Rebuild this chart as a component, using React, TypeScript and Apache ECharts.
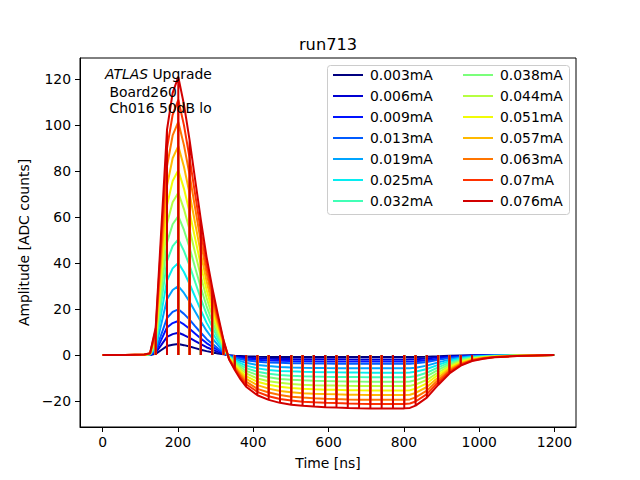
import React, { useEffect, useRef } from "react";
import * as echarts from "echarts";

const times = [0, 60, 111, 126, 141, 156, 171, 186, 201, 216, 231, 246, 261, 276, 291, 306, 321, 336, 351, 366, 381, 411, 441, 471, 501, 531, 561, 591, 621, 651, 681, 711, 741, 771, 801, 816, 831, 861, 891, 921, 951, 981, 1011, 1041, 1071, 1101, 1150, 1199];

const spikeTimes = [141, 171, 201, 231, 261, 291, 321, 351, 381, 411, 441, 471, 501, 531, 561, 591, 621, 651, 681, 711, 741, 771, 801, 831, 861, 891, 921, 951, 981];

const labels = ["0.003mA", "0.006mA", "0.009mA", "0.013mA", "0.019mA", "0.025mA", "0.032mA", "0.038mA", "0.044mA", "0.051mA", "0.057mA", "0.063mA", "0.07mA", "0.076mA"];

const colors = ["#000080", "#0000d2", "#0012ff", "#005bff", "#00a4ff", "#06edf1", "#41ffb6", "#7bff7b", "#b6ff41", "#f1fc06", "#ffb900", "#ff7500", "#ff3200", "#d20000"];

const a003 = [0, 0, 0, 0, 0.5, 2.2, 3.9, 4.5, 4.8, 4.3, 3.7, 3, 2.3, 1.7, 1.2, 0.7, 0.3, -0.1, -0.3, -0.4, -0.5, -0.7, -0.8, -0.8, -0.9, -0.9, -0.9, -0.9, -0.9, -0.9, -0.9, -0.9, -0.9, -0.9, -0.9, -0.9, -0.9, -0.7, -0.5, -0.3, -0.2, -0.1, -0.1, 0, 0, 0, 0, 0];
const a006 = [0, 0, 0, 0.1, 1, 4.4, 7.9, 9.1, 9.7, 8.7, 7.5, 6.1, 4.7, 3.4, 2.4, 1.4, 0.5, -0.2, -0.5, -0.8, -1.1, -1.4, -1.6, -1.7, -1.7, -1.8, -1.8, -1.8, -1.8, -1.8, -1.9, -1.9, -1.9, -1.9, -1.9, -1.8, -1.8, -1.5, -1, -0.6, -0.4, -0.2, -0.1, -0.1, -0.1, 0, 0, 0];
const a009 = [0, 0, 0, 0.1, 1.5, 6.7, 12, 13.9, 14.8, 13.3, 11.4, 9.3, 7.2, 5.2, 3.6, 2.2, 0.8, -0.2, -0.8, -1.3, -1.7, -2.1, -2.4, -2.5, -2.6, -2.7, -2.7, -2.8, -2.8, -2.8, -2.8, -2.8, -2.8, -2.8, -2.8, -2.8, -2.7, -2.3, -1.6, -1, -0.6, -0.3, -0.2, -0.1, -0.1, 0, 0, 0];
const a013 = [0, 0, 0, 0.1, 2, 9, 16.1, 18.8, 19.9, 17.9, 15.4, 12.5, 9.7, 7, 4.9, 2.9, 1.1, -0.3, -1.1, -1.7, -2.3, -2.9, -3.2, -3.4, -3.6, -3.6, -3.7, -3.7, -3.8, -3.8, -3.8, -3.8, -3.8, -3.8, -3.8, -3.8, -3.6, -3, -2.1, -1.3, -0.8, -0.4, -0.3, -0.2, -0.1, -0.1, 0, 0];
const a019 = [0, 0, 0, 0.2, 3, 13.6, 24.3, 28.3, 30, 27, 23.2, 18.8, 14.6, 10.6, 7.3, 4.4, 1.6, -0.5, -1.6, -2.6, -3.4, -4.3, -4.8, -5.2, -5.4, -5.5, -5.6, -5.6, -5.7, -5.7, -5.7, -5.8, -5.8, -5.8, -5.8, -5.7, -5.5, -4.6, -3.2, -2, -1.1, -0.6, -0.4, -0.2, -0.2, -0.1, 0, 0];
const a025 = [0, 0, 0.1, 0.3, 4, 18.2, 32.4, 37.7, 40.1, 36.1, 30.9, 25.2, 19.4, 14.1, 9.8, 5.9, 2.2, -0.7, -2.2, -3.5, -4.6, -5.8, -6.5, -6.9, -7.1, -7.3, -7.4, -7.5, -7.5, -7.6, -7.6, -7.7, -7.7, -7.7, -7.7, -7.6, -7.3, -6.1, -4.3, -2.6, -1.5, -0.9, -0.5, -0.3, -0.2, -0.1, -0.1, 0];
const a032 = [0, 0, 0.1, 0.3, 5, 22.9, 40.8, 47.4, 50.3, 45.3, 38.9, 31.6, 24.4, 17.8, 12.3, 7.4, 2.7, -0.8, -2.7, -4.4, -5.7, -7.3, -8.1, -8.7, -9, -9.2, -9.3, -9.4, -9.5, -9.6, -9.6, -9.7, -9.7, -9.7, -9.7, -9.6, -9.2, -7.7, -5.4, -3.3, -1.9, -1.1, -0.7, -0.4, -0.3, -0.2, -0.1, 0];
const a038 = [0, 0, 0.1, 0.4, 6, 27.4, 48.9, 56.9, 60.4, 54.4, 46.7, 37.9, 29.3, 21.3, 14.7, 8.8, 3.3, -1, -3.2, -5.2, -6.9, -8.7, -9.7, -10.4, -10.8, -11, -11.2, -11.3, -11.4, -11.5, -11.5, -11.6, -11.6, -11.6, -11.6, -11.5, -11, -9.2, -6.5, -4, -2.3, -1.3, -0.8, -0.5, -0.3, -0.2, -0.1, 0];
const a044 = [0, 0, 0.1, 0.5, 7, 32.1, 57.1, 66.5, 70.6, 63.5, 54.5, 44.3, 34.2, 24.9, 17.2, 10.3, 3.8, -1.2, -3.8, -6.1, -8, -10.2, -11.4, -12.1, -12.6, -12.9, -13.1, -13.2, -13.3, -13.4, -13.5, -13.5, -13.5, -13.5, -13.5, -13.4, -12.8, -10.8, -7.6, -4.7, -2.7, -1.5, -0.9, -0.6, -0.4, -0.2, -0.1, 0];
const a051 = [0, 0, 0.1, 0.5, 8, 36.5, 65.1, 75.7, 80.4, 72.4, 62.1, 50.5, 39, 28.4, 19.6, 11.8, 4.4, -1.3, -4.3, -7, -9.2, -11.6, -12.9, -13.8, -14.3, -14.7, -14.9, -15.1, -15.1, -15.3, -15.3, -15.4, -15.4, -15.4, -15.4, -15.3, -14.6, -12.3, -8.6, -5.3, -3.1, -1.7, -1.1, -0.7, -0.5, -0.3, -0.1, 0];
const a057 = [0, 0, 0.2, 0.6, 9, 41.3, 73.6, 85.6, 90.9, 81.9, 70.2, 57.1, 44.1, 32.1, 22.2, 13.3, 5, -1.5, -4.9, -7.9, -10.4, -13.1, -14.6, -15.6, -16.2, -16.6, -16.8, -17, -17.1, -17.3, -17.3, -17.4, -17.4, -17.4, -17.4, -17.3, -16.5, -13.9, -9.8, -6, -3.5, -2, -1.2, -0.8, -0.5, -0.3, -0.2, 0];
const a063 = [0, 0, 0.2, 0.7, 10, 46.1, 82.1, 95.5, 101.4, 91.3, 78.4, 63.7, 49.2, 35.8, 24.7, 14.8, 5.5, -1.7, -5.4, -8.8, -11.6, -14.7, -16.3, -17.4, -18.1, -18.5, -18.8, -19, -19.1, -19.3, -19.4, -19.4, -19.4, -19.4, -19.4, -19.3, -18.4, -15.5, -10.9, -6.7, -3.9, -2.2, -1.3, -0.8, -0.6, -0.3, -0.2, 0];
const a070 = [0, 0, 0.2, 0.7, 11, 50.4, 89.9, 104.5, 111, 100, 85.7, 69.7, 53.8, 39.2, 27.1, 16.2, 6.1, -1.8, -6, -9.6, -12.7, -16, -17.9, -19.1, -19.8, -20.3, -20.5, -20.8, -20.9, -21.1, -21.2, -21.3, -21.3, -21.3, -21.3, -21.1, -20.2, -17, -11.9, -7.3, -4.2, -2.4, -1.5, -0.9, -0.6, -0.4, -0.2, 0];
const a076 = [0, 0, 0.2, 0.8, 12, 55, 98, 114, 121, 109, 93.5, 76, 58.7, 42.7, 29.5, 17.7, 6.6, -2, -6.5, -10.5, -13.8, -17.5, -19.5, -20.8, -21.6, -22.1, -22.4, -22.7, -22.8, -23, -23.1, -23.2, -23.2, -23.2, -23.2, -23, -22, -18.5, -13, -8, -4.6, -2.6, -1.6, -1, -0.7, -0.4, -0.2, 0];

const seriesValues = [a003, a006, a009, a013, a019, a025, a032, a038, a044, a051, a057, a063, a070, a076];

const xTicks = [0, 200, 400, 600, 800, 1000, 1200];
const yTicks = [-20, 0, 20, 40, 60, 80, 100, 120];

const FONT = "DejaVu Sans";

function buildData(vals: number[]) {
  const out: number[][] = [];
  times.forEach((t, i) => {
    out.push([t, vals[i]]);
    if (spikeTimes.includes(t)) {
      out.push([t, 0]);
      out.push([t, vals[i]]);
    }
  });
  return out;
}

const fmt = (v: number) => (v < 0 ? "\u2212" + Math.abs(v) : String(v));

export default function App() {
  const ref = useRef<HTMLDivElement>(null);
  useEffect(() => {
    if (!ref.current) return;
    const chart = echarts.init(ref.current, undefined, { renderer: "svg" });
    const series = seriesValues.map((vals, i) => ({
      name: labels[i],
      type: "line",
      data: buildData(vals),
      symbol: "none",
      showSymbol: false,
      color: colors[i],
      lineStyle: { color: colors[i], width: 2 },
      z: 2,
    }));
    const legendBase = {
      orient: "vertical",
      top: 68,
      padding: 0,
      icon: "rect",
      itemWidth: 30,
      itemHeight: 2,
      itemGap: 7,
      textStyle: { fontFamily: FONT, fontSize: 13.9, color: "#000", padding: [0, 0, 0, 2] },
      z: 5,
    };
    chart.setOption({
      animation: false,
      textStyle: { fontFamily: FONT },
      grid: {
        left: 80,
        top: 58,
        width: 496,
        height: 369,
        containLabel: false,
        show: true,
        borderColor: "#000",
        borderWidth: 1,
        backgroundColor: "transparent",
      },
      xAxis: {
        type: "value",
        min: -60,
        max: 1257,
        splitLine: { show: false },
        axisLine: { show: true, onZero: false, lineStyle: { color: "#000", width: 1 } },
        axisTick: { show: true, inside: false, length: 5, customValues: xTicks, lineStyle: { color: "#000", width: 1 } },
        axisLabel: { customValues: xTicks, margin: 8, fontSize: 13.9, color: "#000", fontFamily: FONT, formatter: fmt },
        name: "Time [ns]",
        nameLocation: "middle",
        nameGap: 29,
        nameTextStyle: { fontSize: 13.9, color: "#000", fontFamily: FONT },
      },
      yAxis: {
        type: "value",
        min: -31.3,
        max: 129.2,
        splitLine: { show: false },
        axisLine: { show: true, onZero: false, lineStyle: { color: "#000", width: 1 } },
        axisTick: { show: true, inside: false, length: 5, customValues: yTicks, lineStyle: { color: "#000", width: 1 } },
        axisLabel: { customValues: yTicks, margin: 9, fontSize: 13.9, color: "#000", fontFamily: FONT, formatter: fmt },
        name: "Amplitude [ADC counts]",
        nameLocation: "middle",
        nameRotate: 90,
        nameGap: 43,
        nameTextStyle: { fontSize: 13.9, color: "#000", fontFamily: FONT },
      },
      legend: [
        { ...legendBase, left: 333, data: labels.slice(0, 7) },
        { ...legendBase, left: 463, data: labels.slice(7) },
      ],
      graphic: [
        {
          type: "rect",
          z: 3,
          shape: { x: 327.5, y: 65.5, width: 242, height: 149, r: 3 },
          style: { fill: "rgba(255,255,255,0.8)", stroke: "#cccccc", lineWidth: 1 },
        },
        {
          type: "text",
          z: 6,
          x: 328,
          y: 44,
          style: { text: "run713", fontSize: 16.2, fontFamily: FONT, fill: "#000", textAlign: "center", textVerticalAlign: "middle" },
        },
        {
          type: "text",
          z: 6,
          x: 105,
          y: 73.5,
          style: {
            text: "{i|ATLAS} Upgrade",
            rich: { i: { fontStyle: "italic", fontSize: 13.9, fontFamily: FONT, fill: "#000" } },
            fontSize: 13.9,
            fontFamily: FONT,
            fill: "#000",
            textVerticalAlign: "middle",
          },
        },
        {
          type: "text",
          z: 6,
          x: 109.5,
          y: 91.5,
          style: { text: "Board260", fontSize: 13.9, fontFamily: FONT, fill: "#000", textVerticalAlign: "middle" },
        },
        {
          type: "text",
          z: 6,
          x: 109.5,
          y: 108,
          style: { text: "Ch016 50dB lo", fontSize: 13.9, fontFamily: FONT, fill: "#000", textVerticalAlign: "middle" },
        },
      ],
      series,
    });
    return () => chart.dispose();
  }, []);
  return <div ref={ref} style={{ position: "fixed", left: 0, top: 0, width: 640, height: 480, background: "#fff" }} />;
}
